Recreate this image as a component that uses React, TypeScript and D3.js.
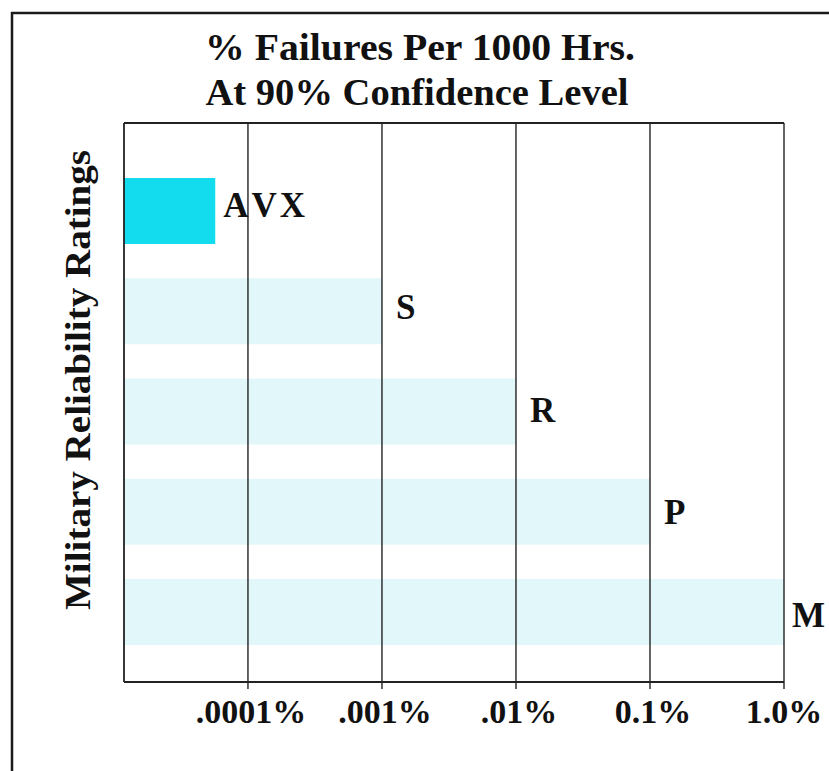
import React from "react";
import * as d3 from "d3";

const categories = ["AVX", "S", "R", "P", "M"];
const values = [0.000057, 0.001, 0.01, 0.1, 1.0];
const tickValues = [0.0001, 0.001, 0.01, 0.1, 1.0];
const tickLabels = [".0001%", ".001%", ".01%", "0.1%", "1.0%"];
const titleLines = ["% Failures Per 1000 Hrs.", "At 90% Confidence Level"];
const yTitle = "Military Reliability Ratings";

const W = 829;
const H = 771;
const plot = { left: 124, right: 784, top: 123, bottom: 682 };
const FONT = "'Liberation Serif', 'Times New Roman', serif";

export default function App() {
  const x = d3
    .scaleLog()
    .domain([Math.pow(10, -4.925), 1])
    .range([plot.left, plot.right]);
  const y = d3
    .scaleBand<string>()
    .domain(categories)
    .range([178, 645])
    .paddingInner(0.342)
    .paddingOuter(0);

  return (
    <svg
      width={W}
      height={H}
      style={{ position: "absolute", left: 0, top: 0, background: "#fff" }}
    >
      {/* outer frame */}
      <line x1={11} x2={W} y1={13} y2={13} stroke="#1a1a1a" strokeWidth={2.5} />
      <line x1={12} x2={12} y1={12} y2={H} stroke="#1a1a1a" strokeWidth={2.5} />

      {/* title */}
      {titleLines.map((t, i) => (
        <text
          key={t}
          x={i === 0 ? 420 : 417}
          y={60 + i * 45}
          textAnchor="middle"
          fontFamily={FONT}
          fontWeight="bold"
          fontSize={37}
          fill="#111"
          textLength={i === 0 ? 430 : 423}
          lengthAdjust="spacingAndGlyphs"
        >
          {t}
        </text>
      ))}

      {/* bars */}
      {categories.map((c, i) => (
        <rect
          key={c}
          x={plot.left}
          y={y(c)}
          width={x(values[i]) - plot.left}
          height={y.bandwidth()}
          fill={i === 0 ? "#14dcef" : "#e2f7f9"}
        />
      ))}

      {/* grid lines */}
      {tickValues.map((v) => (
        <line
          key={v}
          x1={x(v)}
          x2={x(v)}
          y1={plot.top}
          y2={plot.bottom + 7}
          stroke="#222"
          strokeWidth={1.4}
        />
      ))}

      {/* plot frame */}
      <line x1={plot.left} x2={plot.right} y1={plot.top} y2={plot.top} stroke="#222" strokeWidth={1.8} />
      <line x1={plot.left} x2={plot.right} y1={plot.bottom} y2={plot.bottom} stroke="#222" strokeWidth={1.8} />
      <line x1={plot.left} x2={plot.left} y1={plot.top} y2={plot.bottom} stroke="#222" strokeWidth={1.8} />

      {/* bar labels */}
      {categories.map((c, i) => (
        <text
          key={c}
          x={x(values[i]) + (i === 0 || i === 4 ? 8 : 14)}
          y={(y(c) as number) + y.bandwidth() / 2 + 6 + i * 2.2}
          fontFamily={FONT}
          fontWeight="bold"
          fontSize={35}
          letterSpacing={i === 0 ? 3 : 0}
          style={{ fontKerning: "none" }}
          fill="#111"
        >
          {c}
        </text>
      ))}

      {/* tick labels */}
      {tickValues.map((v, i) => (
        <text
          key={v}
          x={x(v) + (i === 4 ? 0 : 3)}
          y={723}
          textAnchor="middle"
          fontFamily={FONT}
          fontWeight="bold"
          fontSize={34}
          fill="#111"
        >
          {tickLabels[i]}
        </text>
      ))}

      {/* y title */}
      <text
        transform={`translate(90, 380) rotate(-90)`}
        textAnchor="middle"
        fontFamily={FONT}
        fontWeight="bold"
        fontSize={36}
        fill="#111"
        textLength={460}
        lengthAdjust="spacingAndGlyphs"
      >
        {yTitle}
      </text>
    </svg>
  );
}
